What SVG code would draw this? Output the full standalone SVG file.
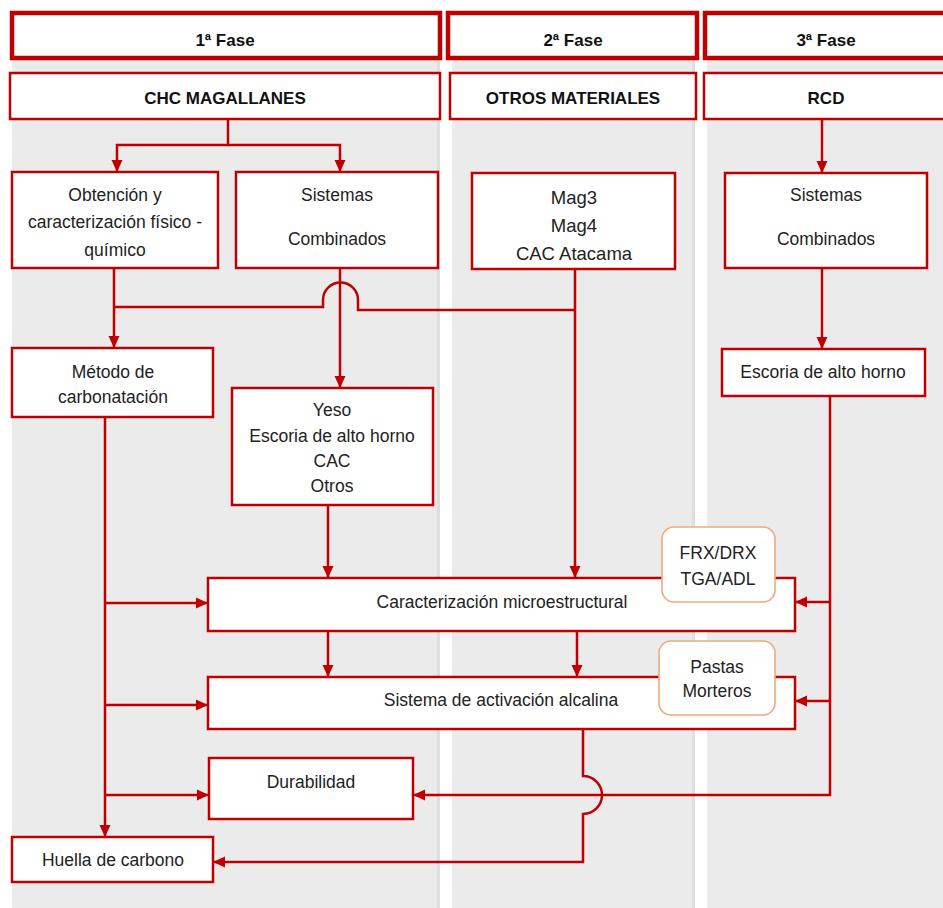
<svg xmlns="http://www.w3.org/2000/svg" width="943" height="908" viewBox="0 0 943 908">
<style>
.col{fill:#ebebeb;}
.colEdge{fill:#dedede;}
.hdr{fill:#ffffff;stroke:#c00000;stroke-width:4.5;}
.box{fill:#ffffff;stroke:#c00000;stroke-width:2.5;}
.obox{fill:#ffffff;stroke:#f0a97a;stroke-width:1.6;}
.t{font-family:"Liberation Sans",Arial,sans-serif;font-size:17.5px;fill:#222222;text-anchor:middle;dominant-baseline:central;}
.tb{font-family:"Liberation Sans",Arial,sans-serif;font-size:17px;font-weight:bold;fill:#111111;text-anchor:middle;dominant-baseline:central;}
.big{font-size:18.5px;}
.c{fill:none;stroke:#c00000;stroke-width:2.5;}
.a{marker-end:url(#arr);}
</style>
<defs>
<marker id="arr" markerUnits="userSpaceOnUse" markerWidth="12" markerHeight="12" viewBox="0 0 12 12" refX="12" refY="6" orient="auto">
<path d="M0,0.5 L12,6 L0,11.5 z" fill="#c00000"/>
</marker>
</defs>
<rect x="0" y="0" width="943" height="908" fill="#ffffff"/>
<g id="columns">
<rect class="col" x="12" y="58" width="428" height="850"/>
<rect class="colEdge" x="437" y="58" width="3" height="850"/>
<rect class="col" x="452" y="58" width="243" height="850"/>
<rect class="colEdge" x="692" y="58" width="3" height="850"/>
<rect class="col" x="707" y="58" width="236" height="850"/>
</g>
<g id="fase1"><rect class="hdr" x="12" y="13" width="428" height="45"/><text class="tb" x="225" y="40">1ª Fase</text></g>
<g id="fase2"><rect class="hdr" x="448" y="13" width="249" height="45"/><text class="tb" x="573" y="40">2ª Fase</text></g>
<g id="fase3"><rect class="hdr" x="705" y="13" width="245" height="45"/><text class="tb" x="826" y="40">3ª Fase</text></g>
<g id="chc"><rect class="box" x="10" y="73" width="430" height="46"/><text class="tb" x="225" y="98">CHC MAGALLANES</text></g>
<g id="otros"><rect class="box" x="450" y="73" width="246" height="46"/><text class="tb" x="573" y="98">OTROS MATERIALES</text></g>
<g id="rcd"><rect class="box" x="704" y="73" width="245" height="46"/><text class="tb" x="826" y="98">RCD</text></g>
<g id="obtencion"><rect class="box" x="12" y="172" width="206" height="96"/>
<text class="t" x="115" y="195">Obtención y</text><text class="t" x="115" y="222">caracterización físico -</text><text class="t" x="115" y="250">químico</text></g>
<g id="sistemas1"><rect class="box" x="236" y="172" width="202" height="96"/>
<text class="t" x="337" y="195">Sistemas</text><text class="t" x="337" y="239">Combinados</text></g>
<g id="mag"><rect class="box" x="472" y="173" width="203" height="96"/>
<text class="t big" x="574" y="197">Mag3</text><text class="t big" x="574" y="225">Mag4</text><text class="t big" x="574" y="253">CAC Atacama</text></g>
<g id="sistemas3"><rect class="box" x="725" y="173" width="202" height="95"/>
<text class="t" x="826" y="195">Sistemas</text><text class="t" x="826" y="239">Combinados</text></g>
<g id="metodo"><rect class="box" x="12" y="348" width="201" height="69"/>
<text class="t" x="113" y="372">Método de</text><text class="t" x="113" y="397">carbonatación</text></g>
<g id="yeso"><rect class="box" x="232" y="388" width="201" height="117"/>
<text class="t" x="332" y="410">Yeso</text><text class="t" x="332" y="436">Escoria de alto horno</text><text class="t" x="332" y="461">CAC</text><text class="t" x="332" y="486">Otros</text></g>
<g id="escoria3"><rect class="box" x="722" y="349" width="203" height="47"/>
<text class="t" x="823" y="372">Escoria de alto horno</text></g>
<g id="caracterizacion"><rect class="box" x="208" y="578" width="587" height="53"/>
<text class="t" x="502" y="602">Caracterización microestructural</text></g>
<g id="sistemaAA"><rect class="box" x="208" y="677" width="587" height="52"/>
<text class="t" x="501" y="700">Sistema de activación alcalina</text></g>
<g id="frx"><rect class="obox" x="662" y="527" width="113" height="75" rx="12"/>
<text class="t" x="718" y="553">FRX/DRX</text><text class="t" x="718" y="579">TGA/ADL</text></g>
<g id="pastas"><rect class="obox" x="659" y="641" width="116" height="74" rx="12"/>
<text class="t" x="717" y="667">Pastas</text><text class="t" x="717" y="691">Morteros</text></g>
<g id="durabilidad"><rect class="box" x="209" y="758" width="204" height="61"/>
<text class="t" x="311" y="782">Durabilidad</text></g>
<g id="huella"><rect class="box" x="12" y="837" width="201" height="45"/>
<text class="t" x="113" y="860">Huella de carbono</text></g>
<g id="connectors">
<path class="c a" d="M228 119 V145 H117 V172"/>
<path class="c a" d="M228 145 H340 V172"/>
<path class="c a" d="M822 119 V173"/>
<path class="c a" d="M822 268 V349"/>
<path class="c a" d="M114 268 V348"/>
<path class="c" d="M114 307 H323 V300 A17.5 17.5 0 0 1 358 300 V310 H575"/>
<path class="c a" d="M340 268 V388"/>
<path class="c a" d="M575 269 V578"/>
<path class="c a" d="M105 417 V837"/>
<path class="c a" d="M105 603 H208"/>
<path class="c a" d="M105 705 H208"/>
<path class="c a" d="M105 795 H209"/>
<path class="c a" d="M328 505 V578"/>
<path class="c a" d="M328 631 V677"/>
<path class="c a" d="M577 631 V677"/>
<path class="c a" d="M830 396 V795 H413"/>
<path class="c a" d="M830 602 H795"/>
<path class="c a" d="M830 701 H795"/>
<path class="c a" d="M583 729 V776 A19 19 0 0 1 583 814 V862 H213"/>
</g>
</svg>
